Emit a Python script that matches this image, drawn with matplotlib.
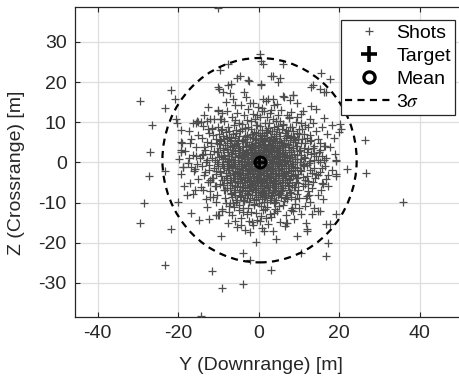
import matplotlib
matplotlib.use("Agg")
import matplotlib.pyplot as plt
from matplotlib.patches import Ellipse
from matplotlib.lines import Line2D

plt.rcParams["font.family"] = ["Liberation Sans", "DejaVu Sans"]
plt.rcParams["axes.unicode_minus"] = False
plt.rcParams["mathtext.fontset"] = "stix"

# === SHOT IMPACTS (Y downrange, Z crossrange) [m] ===
outer_shots = [
    (-10.2, 38.5), (-29.5, 15.2), (-21.7, 18.0), (-20.8, 15.8), (-23.2, 13.6), (-26.4, 9.2),
    (-20.6, 10.7), (-19.2, 8.0), (-27.0, 2.7), (-19.2, 2.7), (-27.2, -3.4), (-23.2, -2.2),
    (-19.0, 4.9), (-16.7, 5.9), (-15.5, 9.9), (-15.2, 10.2), (-10.1, 13.0), (-10.1, 18.9),
    (-9.7, 23.1), (-7.6, 24.4), (-7.6, 19.2), (-8.8, 17.5), (-28.5, -10.0), (-29.5, -15.2),
    (-21.7, -16.7), (-23.2, -25.6), (-11.7, -27.0), (-9.1, -31.2), (-14.4, -38.2), (-20.0, -9.9),
    (-16.7, -12.7), (-14.9, -14.4), (-18.5, -5.8), (-10.1, -13.2), (-9.3, -18.4), (-8.1, -10.0),
    (35.7, -9.9), (-3.9, -30.2), (3.0, -26.8), (-2.2, -24.4), (-4.0, -22.6), (16.6, -23.3),
    (17.2, -20.0), (10.6, -22.5), (9.4, -18.3), (4.2, -19.2), (-0.8, -19.7), (12.0, -17.1),
    (16.8, -15.3), (17.6, -15.3), (19.1, -12.9), (14.7, -12.1), (13.3, -12.8), (7.1, -15.2),
    (26.3, 5.7), (26.7, -2.7), (21.8, -1.6), (19.1, 0.3), (19.1, -3.0), (20.1, 9.5),
    (20.3, 8.3), (15.5, 22.3), (17.6, 20.8), (13.5, 19.4), (13.0, 18.8), (16.7, 17.5),
    (15.2, 18.4), (0.2, 26.9), (0.6, 25.3), (6.0, 24.4), (3.1, 21.6), (5.2, 21.0),
    (-4.7, 21.6), (-5.5, 21.0), (-2.6, 20.4), (0.5, 19.6), (8.5, 16.7), (11.0, 12.8),
    (4.5, 14.6), (7.8, 15.5), (16.4, 4.1), (14.6, 0.7), (-2.4, 20.2), (-7.0, 19.6),
    (-9.9, 18.3), (-7.2, 17.3), (-3.7, 17.5), (-6.4, 15.7), (-6.0, 14.4), (-10.1, 12.8),
    (-9.3, 10.7), (-12.2, 10.7), (-15.1, 10.1), (-14.3, 10.0), (-20.3, 9.9), (-19.2, 5.0),
    (-19.2, 3.1), (-11.7, 8.6), (-11.4, 6.9), (-9.7, 5.7), (-17.3, 1.2), (-15.5, 1.5),
    (-13.8, 2.0), (1.0, 24.4), (3.5, 21.6), (4.9, 20.0), (16.3, 17.5), (8.4, 16.9),
    (6.0, 16.5), (3.5, 15.7), (7.6, 11.1), (10.5, 9.9), (10.1, 8.2), (13.0, 5.7),
    (16.3, 4.1), (15.2, 3.2), (19.2, 0.7), (20.0, 7.5), (0.6, 19.4), (8.4, 6.1),
    (11.3, 7.0), (13.8, 2.4), (16.3, 0.7), (-18.8, -1.2), (-16.7, -1.2), (-15.9, -6.8),
    (-13.8, -6.8), (-17.8, -8.0), (-11.3, -8.5), (-10.5, -13.0), (-9.8, -13.0), (-6.0, -14.7),
    (-4.3, -15.5), (-3.5, -16.8), (-2.5, -14.7), (-12.2, -4.3), (-10.5, -2.2), (-7.2, -10.1),
    (-7.4, -12.3), (14.6, -3.2), (19.2, -3.5), (15.9, -5.4), (12.2, -5.5), (10.1, -8.9),
    (13.8, -11.4), (11.7, -15.1), (11.9, -16.7), (1.4, -17.2), (6.8, -15.1), (8.4, -12.2),
]

core_shots = [
    (-3.1, 16.2), (2.4, 15.8), (6.3, 16.4),
    (-8.2, 15.1), (-1.3, 14.7), (1.9, 15.3), (9.6, 14.9),
    (-12.5, 13.8), (-4.4, 14.2), (0.8, 13.6), (3.7, 14.3), (12.9, 14.0),
    (-7.9, 12.8), (-2.6, 13.3), (1.2, 12.7), (5.5, 13.1), (8.1, 12.6), (14.2, 13.2),
    (-13.7, 11.9), (-5.3, 12.2), (-0.4, 11.7), (2.8, 12.3), (6.9, 11.8), (10.4, 12.1), (-9.1, 12.4),
    (-11.2, 10.8), (-6.7, 11.3), (-3.0, 10.6), (0.3, 11.2), (3.6, 10.9), (7.4, 11.4), (12.6, 10.7),
    (16.1, 11.1),
    (-16.3, 9.8), (-8.5, 10.2), (-4.9, 9.7), (-1.8, 10.4), (1.5, 9.9), (4.2, 10.3), (6.1, 9.6),
    (9.3, 10.1), (13.4, 9.7), (-12.8, 10.3),
    (-13.9, 9.1), (-10.2, 8.7), (-6.1, 9.3), (-2.7, 8.8), (-0.5, 9.2), (2.2, 8.6), (4.9, 9.1),
    (7.7, 8.9), (11.5, 9.2), (15.6, 8.8), (18.2, 9.3),
    (-17.4, 7.8), (-11.6, 8.2), (-7.3, 7.7), (-4.1, 8.3), (-1.2, 7.6), (0.9, 8.1), (3.3, 7.9),
    (5.8, 8.4), (8.6, 7.7), (10.8, 8.2), (14.1, 7.9), (-9.4, 8.0), (2.0, 7.5),
    (-15.0, 6.9), (-12.3, 7.2), (-8.8, 6.7), (-5.6, 7.3), (-3.4, 6.6), (-1.6, 7.1), (0.2, 6.8),
    (1.8, 7.4), (3.9, 6.7), (6.4, 7.2), (8.0, 6.6), (10.1, 7.1), (12.7, 6.8), (16.9, 7.0), (-6.9, 6.4),
    (-14.2, 6.1), (-10.7, 5.8), (-7.8, 6.2), (-5.1, 5.7), (-2.9, 6.3), (-0.9, 5.8), (0.6, 6.2),
    (2.5, 5.6), (4.4, 6.1), (6.2, 5.7), (7.9, 6.3), (9.7, 5.9), (11.9, 6.2), (14.8, 5.8),
    (18.6, 6.1), (-3.8, 5.5), (1.4, 5.9),
    (-17.1, 4.9), (-12.9, 5.2), (-9.8, 4.7), (-7.2, 5.3), (-5.3, 4.8), (-3.5, 5.1), (-1.7, 4.6),
    (-0.3, 5.2), (1.1, 4.7), (2.7, 5.3), (4.0, 4.8), (5.6, 5.1), (7.2, 4.6), (8.9, 5.2),
    (10.6, 4.8), (12.8, 5.3), (15.3, 4.9), (-2.4, 4.4), (3.4, 4.3),
    (-15.6, 3.8), (-11.8, 4.2), (-8.9, 3.7), (-6.6, 4.1), (-4.8, 3.6), (-3.1, 4.2), (-1.4, 3.8),
    (0.1, 4.3), (1.6, 3.7), (3.0, 4.1), (4.5, 3.6), (6.0, 4.2), (7.6, 3.8), (9.2, 4.1),
    (11.3, 3.7), (13.6, 4.2), (17.8, 3.9), (-2.2, 3.3), (2.3, 3.4), (5.2, 3.5),
    (-18.2, 2.9), (-13.4, 3.2), (-10.3, 2.7), (-7.9, 3.3), (-5.9, 2.8), (-4.2, 3.1), (-2.6, 2.6),
    (-1.1, 3.2), (0.4, 2.7), (1.9, 3.3), (3.4, 2.8), (4.9, 3.2), (6.5, 2.6), (8.1, 3.1),
    (9.9, 2.8), (12.2, 3.3), (14.9, 2.7), (-0.6, 2.3), (2.6, 2.2), (-3.5, 2.4), (5.7, 2.3),
    (-16.4, 1.9), (-12.1, 2.2), (-9.3, 1.7), (-7.0, 2.1), (-5.2, 1.6), (-3.6, 2.2), (-2.0, 1.8),
    (-0.7, 2.1), (0.8, 1.6), (2.2, 2.2), (3.7, 1.7), (5.3, 2.1), (6.9, 1.6), (8.7, 2.2),
    (10.5, 1.8), (12.9, 2.1), (15.7, 1.7), (18.9, 2.0), (-4.4, 1.4), (1.5, 1.3), (4.4, 1.4),
    (-1.3, 1.2),
    (-19.8, 0.9), (-14.6, 1.2), (-10.9, 0.7), (-8.4, 1.1), (-6.3, 0.6), (-4.5, 1.2), (-2.9, 0.8),
    (-1.5, 1.1), (-0.2, 0.6), (1.3, 1.2), (2.8, 0.7), (4.2, 1.1), (5.8, 0.6), (7.5, 1.2),
    (9.4, 0.8), (11.6, 1.1), (13.8, 0.7), (16.8, 1.0), (-3.7, 0.4), (3.5, 0.3), (-7.6, 0.3),
    (6.6, 0.4),
    (-17.5, -0.1), (-13.0, 0.2), (-10.0, -0.3), (-7.8, 0.1), (-5.8, -0.4), (-4.1, 0.2), (-2.4, -0.2),
    (-1.0, 0.1), (2.1, -0.3), (3.4, 0.2), (4.9, -0.2), (6.4, 0.1), (8.2, -0.4), (10.2, 0.2),
    (12.4, -0.1), (15.2, 0.1), (-15.4, -0.5), (-6.9, -0.6), (-3.2, -0.7), (1.8, -0.6), (5.6, -0.7),
    (11.1, -0.6),
    (-18.7, -1.1), (-14.0, -0.8), (-11.1, -1.3), (-8.9, -0.9), (-6.6, -1.2), (-4.8, -0.8),
    (-3.1, -1.3), (-1.6, -0.9), (-0.4, -1.4), (1.0, -0.9), (2.6, -1.2), (4.1, -0.8), (5.7, -1.3),
    (7.3, -0.9), (9.1, -1.2), (11.3, -0.8), (13.7, -1.3), (16.4, -0.9), (-2.2, -1.6), (0.5, -1.7),
    (3.3, -1.6), (-5.5, -1.5),
    (-16.0, -2.2), (-12.4, -1.8), (-9.6, -2.3), (-7.4, -1.9), (-5.4, -2.3), (-3.8, -1.8),
    (-2.3, -2.2), (-0.9, -1.9), (0.6, -2.3), (2.0, -1.8), (3.6, -2.2), (5.1, -1.9), (6.8, -2.3),
    (8.5, -1.8), (10.4, -2.2), (12.8, -1.9), (15.1, -2.3), (18.1, -2.0), (-1.5, -2.6), (1.4, -2.7),
    (4.3, -2.6), (-4.6, -2.7),
    (-19.3, -2.9), (-13.7, -3.2), (-10.5, -2.8), (-8.1, -3.3), (-6.0, -2.9), (-4.3, -3.2),
    (-2.7, -2.8), (-1.2, -3.3), (0.2, -2.9), (1.7, -3.2), (3.1, -2.8), (4.7, -3.3), (6.3, -2.9),
    (8.0, -3.2), (9.8, -2.8), (11.9, -3.3), (14.3, -2.9), (17.2, -3.1), (-0.5, -3.6), (2.5, -3.7),
    (-3.4, -3.6),
    (-15.1, -4.2), (-11.5, -3.8), (-8.7, -4.3), (-6.5, -3.9), (-4.7, -4.2), (-3.0, -3.8),
    (-1.5, -4.3), (0.0, -3.9), (1.4, -4.2), (2.9, -3.8), (4.4, -4.3), (6.0, -3.9), (7.7, -4.2),
    (9.5, -3.8), (11.6, -4.3), (13.9, -3.9), (16.6, -4.1), (-2.3, -4.6), (0.8, -4.7), (3.7, -4.6),
    (-17.0, -5.1), (-12.6, -4.8), (-9.5, -5.3), (-7.1, -4.9), (-5.1, -5.2), (-3.4, -4.8),
    (-1.8, -5.3), (-0.3, -4.9), (1.2, -5.2), (2.7, -4.8), (4.2, -5.3), (5.8, -4.9), (7.5, -5.2),
    (9.3, -4.8), (11.4, -5.3), (13.5, -4.9), (15.6, -5.1), (-0.9, -5.6), (2.0, -5.7),
    (-14.4, -6.2), (-10.6, -5.8), (-7.9, -6.3), (-5.8, -5.9), (-3.9, -6.2), (-2.2, -5.8),
    (-0.6, -6.3), (0.9, -5.9), (2.4, -6.2), (4.0, -5.8), (5.6, -6.3), (7.3, -5.9), (9.0, -6.2),
    (10.9, -5.8), (13.1, -6.3), (17.3, -6.0), (-1.4, -6.6),
    (-12.0, -7.2), (-8.6, -6.8), (-6.2, -7.3), (-4.2, -6.9), (-2.5, -7.2), (-0.9, -6.8),
    (0.7, -7.3), (2.3, -6.9), (4.0, -7.2), (5.8, -6.8), (7.7, -7.3), (9.8, -6.9), (12.3, -7.2),
    (15.4, -6.9), (1.6, -7.6),
    (-16.2, -7.9), (-10.4, -8.2), (-7.0, -7.8), (-4.6, -8.3), (-2.6, -7.9), (-0.8, -8.2),
    (1.1, -7.8), (3.0, -8.3), (5.0, -7.9), (7.1, -8.2), (9.4, -7.8), (12.0, -8.3), (14.6, -8.0),
    (-13.2, -9.1), (-8.4, -8.8), (-5.3, -9.3), (-2.9, -8.8), (-0.7, -9.2), (1.6, -8.7),
    (3.9, -9.3), (6.4, -8.9), (8.9, -9.2), (11.8, -8.8), (16.0, -9.1),
    (-10.6, -9.8), (-6.5, -10.2), (-3.6, -9.7), (-1.2, -10.3), (1.3, -9.8), (3.7, -10.2),
    (6.2, -9.7), (9.0, -10.3), (12.7, -9.9), (-5.0, -10.6),
    (-12.9, -11.2), (-7.5, -10.8), (-4.0, -11.3), (-1.1, -10.7), (2.0, -11.2), (5.1, -10.8),
    (8.3, -11.3), (11.5, -10.9),
    (-9.2, -12.2), (-5.0, -11.8), (-1.8, -12.3), (1.5, -11.7), (4.6, -12.2), (7.9, -11.8),
    (15.3, -12.0),
    (-6.7, -13.2), (-3.0, -12.8), (0.6, -13.3), (3.9, -12.7), (6.8, -13.1), (10.6, -12.9),
    (-12.4, -14.1), (-4.4, -13.8), (-0.5, -14.3), (3.1, -13.7), (8.8, -14.2),
    (-7.6, -15.2), (-1.6, -14.8), (2.3, -15.3), (5.4, -14.9),
    (-5.3, -16.1), (0.9, -16.4), (6.5, -15.9),
    (-2.1, -17.3), (3.5, -17.0),
]

# the solid-looking middle of the cloud
inner_shots = [
    (-4.2, 9.6), (-0.8, 9.4), (2.6, 9.7), (5.9, 9.3),
    (-7.6, 8.9), (-3.3, 8.6), (0.4, 9.0), (3.8, 8.7), (8.2, 8.9),
    (-5.7, 8.1), (-2.0, 8.4), (1.7, 8.0), (4.5, 8.3), (6.8, 8.0), (-9.0, 8.3),
    (-8.1, 7.5), (-4.6, 7.8), (-0.6, 7.4), (2.9, 7.7), (5.1, 7.5), (7.3, 7.8), (9.6, 7.4),
    (-6.3, 7.0), (-2.8, 6.9), (-0.2, 7.2), (1.2, 6.8), (4.3, 7.1), (6.9, 6.9), (-9.9, 7.1),
    (-7.5, 6.4), (-4.9, 6.6), (-2.2, 6.4), (0.9, 6.6), (3.1, 6.3), (5.3, 6.6), (8.8, 6.4),
    (-8.6, 5.9), (-6.0, 6.1), (-3.3, 5.8), (-1.4, 6.0), (0.3, 5.7), (2.0, 6.0), (3.9, 5.8),
    (6.7, 6.0), (9.1, 5.7),
    (-9.4, 5.4), (-6.8, 5.5), (-4.2, 5.3), (-0.6, 5.5), (1.6, 5.3), (3.5, 5.5), (5.0, 5.3),
    (7.8, 5.5),
    (-7.9, 4.9), (-5.7, 4.7), (-2.8, 5.0), (-1.0, 4.8), (0.7, 5.0), (2.2, 4.7), (4.6, 4.9),
    (6.3, 4.8), (8.4, 5.0), (-10.4, 4.8),
    (-8.3, 4.3), (-6.1, 4.4), (-3.9, 4.2), (-1.9, 4.4), (-0.3, 4.1), (1.3, 4.4), (2.8, 4.2),
    (4.0, 4.4), (5.7, 4.1), (7.2, 4.3), (9.6, 4.2),
    (-9.7, 3.7), (-7.1, 3.8), (-5.2, 3.6), (-3.2, 3.8), (-0.9, 3.6), (0.6, 3.9), (2.0, 3.6),
    (3.6, 3.8), (5.0, 3.7), (6.6, 3.9), (8.6, 3.6),
    (-8.8, 3.1), (-6.4, 3.2), (-4.6, 3.0), (-2.0, 3.2), (-0.2, 3.0), (1.2, 3.1), (2.9, 3.0),
    (4.3, 3.2), (5.9, 3.0), (7.4, 3.1), (10.3, 3.0),
    (-10.1, 2.5), (-7.7, 2.6), (-5.8, 2.4), (-4.0, 2.6), (-2.9, 2.4), (-1.6, 2.6), (0.1, 2.4),
    (1.0, 2.6), (2.3, 2.5), (3.9, 2.6), (5.1, 2.4), (6.4, 2.5), (8.0, 2.6),
    (-8.5, 1.9), (-6.7, 2.0), (-4.9, 1.8), (-3.2, 2.0), (-1.9, 1.9), (-0.4, 1.8), (0.7, 2.0),
    (1.8, 1.8), (3.1, 2.0), (4.6, 1.8), (6.0, 2.0), (7.6, 1.9), (9.5, 1.8),
    (-9.9, 1.4), (-7.4, 1.5), (-5.9, 1.3), (-4.2, 1.5), (-2.6, 1.4), (-1.1, 1.5), (0.2, 1.3),
    (1.9, 1.5), (3.3, 1.4), (4.9, 1.5), (6.3, 1.3), (8.2, 1.4),
    (-8.8, 0.8), (-7.0, 0.9), (-5.2, 0.7), (-3.5, 0.9), (-2.0, 0.8), (-0.9, 0.9), (0.9, 0.7),
    (2.1, 0.9), (3.8, 0.8), (5.3, 0.9), (7.0, 0.7), (8.9, 0.8), (10.6, 0.9),
    (-10.4, 0.2), (-8.0, 0.3), (-6.2, 0.1), (-4.5, 0.3), (-3.0, 0.2), (-1.6, 0.3), (2.6, 0.1),
    (4.2, 0.3), (5.7, 0.2), (7.7, 0.3), (9.4, 0.1),
    (-9.1, -0.4), (-7.3, -0.3), (-5.0, -0.5), (-3.6, -0.3), (-2.0, -0.4), (-0.8, -0.5),
    (1.4, -0.3), (3.0, -0.5), (4.6, -0.3), (6.3, -0.4), (8.6, -0.5), (10.9, -0.3),
    (-10.0, -0.9), (-7.9, -1.0), (-6.0, -0.8), (-4.3, -1.0), (-2.6, -0.9), (-1.2, -0.8),
    (0.2, -1.0), (1.8, -0.9), (3.5, -1.0), (5.0, -0.8), (6.8, -1.0), (8.0, -0.9),
    (-8.6, -1.5), (-6.7, -1.4), (-4.9, -1.6), (-3.4, -1.4), (-1.8, -1.5), (-0.4, -1.6),
    (1.1, -1.4), (2.4, -1.5), (4.1, -1.4), (5.6, -1.6), (7.4, -1.5), (9.6, -1.4),
    (-9.5, -2.1), (-7.6, -2.0), (-5.8, -2.2), (-4.2, -2.0), (-2.7, -2.1), (-1.3, -2.2),
    (0.0, -2.0), (1.7, -2.1), (3.2, -2.2), (4.8, -2.0), (6.3, -2.1), (8.1, -2.2), (10.2, -2.0),
    (-8.2, -2.7), (-6.4, -2.6), (-4.9, -2.8), (-3.0, -2.6), (-1.6, -2.7), (-0.2, -2.8),
    (1.1, -2.6), (2.7, -2.7), (4.0, -2.8), (5.6, -2.6), (7.2, -2.7), (9.0, -2.8),
    (-9.3, -3.3), (-7.1, -3.2), (-5.4, -3.4), (-3.8, -3.2), (-2.2, -3.3), (-0.8, -3.4),
    (0.6, -3.2), (2.0, -3.3), (3.5, -3.4), (5.1, -3.2), (6.8, -3.3), (8.4, -3.4),
    (-8.0, -3.9), (-6.1, -3.8), (-4.4, -4.0), (-2.7, -3.8), (-1.1, -3.9), (0.4, -4.0),
    (1.9, -3.8), (3.1, -3.9), (4.8, -4.0), (6.4, -3.8), (9.2, -3.9),
    (-9.0, -4.5), (-6.9, -4.4), (-5.2, -4.6), (-3.6, -4.4), (-1.9, -4.5), (-0.4, -4.6),
    (1.0, -4.4), (2.5, -4.5), (4.1, -4.6), (5.8, -4.4), (7.6, -4.5),
    (-7.8, -5.1), (-5.9, -5.0), (-4.1, -5.2), (-2.4, -5.0), (-0.9, -5.1), (0.6, -5.2),
    (2.1, -5.0), (3.7, -5.1), (5.4, -5.2), (7.1, -5.0), (9.7, -5.1),
    (-8.8, -5.7), (-6.6, -5.6), (-4.7, -5.8), (-3.0, -5.6), (-1.3, -5.7), (0.2, -5.8),
    (1.7, -5.6), (3.2, -5.7), (4.7, -5.8), (6.4, -5.6), (8.3, -5.7),
    (-7.2, -6.3), (-5.3, -6.2), (-3.5, -6.4), (-1.9, -6.2), (-0.2, -6.3), (1.3, -6.4),
    (2.8, -6.2), (4.4, -6.3), (6.0, -6.4), (8.7, -6.2),
    (-8.4, -6.9), (-6.0, -6.8), (-4.1, -7.0), (-2.3, -6.8), (-0.7, -6.9), (1.0, -7.0),
    (2.6, -6.8), (3.9, -6.9), (5.5, -7.0), (7.6, -6.8),
    (-7.0, -7.5), (-4.8, -7.4), (-2.9, -7.6), (-1.0, -7.4), (0.6, -7.5), (2.2, -7.6),
    (3.6, -7.4), (5.2, -7.5), (7.9, -7.6),
    (-5.8, -8.1), (-3.4, -8.0), (-1.6, -8.2), (0.3, -8.0), (1.9, -8.1), (3.3, -8.2),
    (4.9, -8.0), (6.8, -8.1),
    (-6.6, -8.7), (-4.3, -8.6), (-2.1, -8.8), (-0.3, -8.6), (1.4, -8.7), (3.1, -8.8),
    (5.6, -8.6), (8.1, -8.7),
    (-3.9, -9.3), (-1.2, -9.4), (0.8, -9.2), (2.7, -9.3), (4.4, -9.4), (6.9, -9.2),
    (-5.6, -9.9), (-2.5, -9.8), (0.1, -10.0), (2.0, -9.9), (4.1, -9.8),
]

# extra shots softening the edge of the dense middle (along the axes)
edge_shots = [
    (-1.4, 12.1), (0.9, 12.9), (2.1, 11.4), (-3.7, 11.8), (4.8, 11.9), (-0.2, 13.9),
    (-2.2, 14.9), (1.0, 15.9), (3.0, 13.1), (-5.9, 10.6), (5.3, 10.4), (-0.9, 10.8),
    (1.1, -11.9), (-0.6, -12.6), (2.8, -12.9), (-2.6, -11.4), (4.0, -11.5), (0.2, -14.6),
    (-3.9, -12.4), (1.8, -13.9), (-1.3, -15.7), (5.9, -10.6), (-6.1, -11.0), (0.6, -10.9),
    (11.2, 1.3), (12.1, -0.7), (11.9, 2.7), (13.1, -2.6), (12.6, 0.4), (14.1, 1.5),
    (11.0, -3.6), (13.4, 3.6), (15.8, -1.4), (11.6, 4.8), (12.2, -4.6), (10.8, 5.9),
    (-11.6, 1.2), (-12.4, -0.6), (-11.1, 2.9), (-13.3, -2.4), (-12.8, 0.6), (-14.2, 1.8),
    (-11.4, -3.9), (-13.6, 3.9), (-15.9, -1.6), (-11.8, 4.9), (-12.1, -4.9), (-10.9, -5.8),
    (9.4, 11.2), (-9.6, 10.9), (9.9, -11.3), (-9.1, -11.6), (12.3, 8.7), (-12.6, 8.3),
    (12.4, -8.1), (-12.1, -8.5),
]

shots = outer_shots + core_shots + inner_shots + edge_shots
shot_y = [p[0] for p in shots]
shot_z = [p[1] for p in shots]

target_yz = (0.0, 0.0)
mean_yz = (0.4, 0.0)

# 3-sigma ellipse: centre, full width (Y), full height (Z)
sigma3_center = (0.2, 0.55)
sigma3_width = 48.2
sigma3_height = 50.9

x_ticks = [-40, -20, 0, 20, 40]
y_ticks = [-30, -20, -10, 0, 10, 20, 30]

DARK = (0.15, 0.15, 0.15)
SHOT_GRAY = (0.3, 0.3, 0.3)
FS = 14

fig = plt.figure(figsize=(4.6, 3.81), dpi=100)
ax = fig.add_axes([0.163, 0.168, 0.841, 0.8136])

ax.plot(shot_y, shot_z, linestyle="none", marker="+", ms=5.2, mew=0.9,
        color=SHOT_GRAY, zorder=3)

ell = Ellipse(sigma3_center, sigma3_width, sigma3_height, fill=False,
              edgecolor="black", lw=1.6, linestyle=(0, (3.2, 2.4)), zorder=4)
ax.add_patch(ell)

ax.plot(*target_yz, marker="+", ms=9, mew=2.0, color="black", linestyle="none", zorder=5)
ax.plot(*mean_yz, marker="o", ms=8, mew=2.0, mfc="none", mec="black",
        linestyle="none", zorder=6)

ax.set_xlim(-45.6, 50.4)
ax.set_ylim(-38.5, 38.7)
ax.set_xticks(x_ticks)
ax.set_yticks(y_ticks)
ax.grid(True, color=(0.87, 0.87, 0.87), lw=0.9, zorder=0)
ax.set_axisbelow(True)

for side in ["left", "bottom", "top"]:
    ax.spines[side].set_color(DARK)
    ax.spines[side].set_linewidth(0.9)
ax.spines["right"].set_visible(False)
ax.tick_params(direction="in", length=3.5, width=0.8, colors=DARK,
               labelsize=FS, top=True, right=False, pad=6)

ax.set_xlabel("Y (Downrange) [m]", fontsize=FS, color=DARK)
ax.set_ylabel("Z (Crossrange) [m]", fontsize=FS, color=DARK)
ax.xaxis.set_label_coords(0.48, -0.155)
ax.xaxis.label.set_verticalalignment("center")
ax.yaxis.set_label_coords(-0.15, 0.465)
ax.yaxis.label.set_verticalalignment("center")

handles = [
    Line2D([], [], linestyle="none", marker="+", ms=5.2, mew=0.9, color=SHOT_GRAY),
    Line2D([], [], linestyle="none", marker="+", ms=11, mew=2.6, color="black"),
    Line2D([], [], linestyle="none", marker="o", ms=8, mew=2.4, mfc="none", mec="black"),
    Line2D([], [], color="black", lw=1.6, linestyle=(0, (3.2, 2.4))),
]
labels = ["Shots", "Target", "Mean", r"3$\sigma$"]
leg = ax.legend(handles, labels, loc="upper right",
                bbox_to_anchor=(455 / 460, 1 - 20 / 381), bbox_transform=fig.transFigure,
                fontsize=FS, frameon=True, fancybox=False, framealpha=1,
                edgecolor=DARK, borderpad=0.2, labelspacing=0.28,
                handlelength=2.5, handletextpad=0.15, borderaxespad=0)
leg.get_frame().set_linewidth(0.9)

fig.savefig("out.png", dpi=100)
